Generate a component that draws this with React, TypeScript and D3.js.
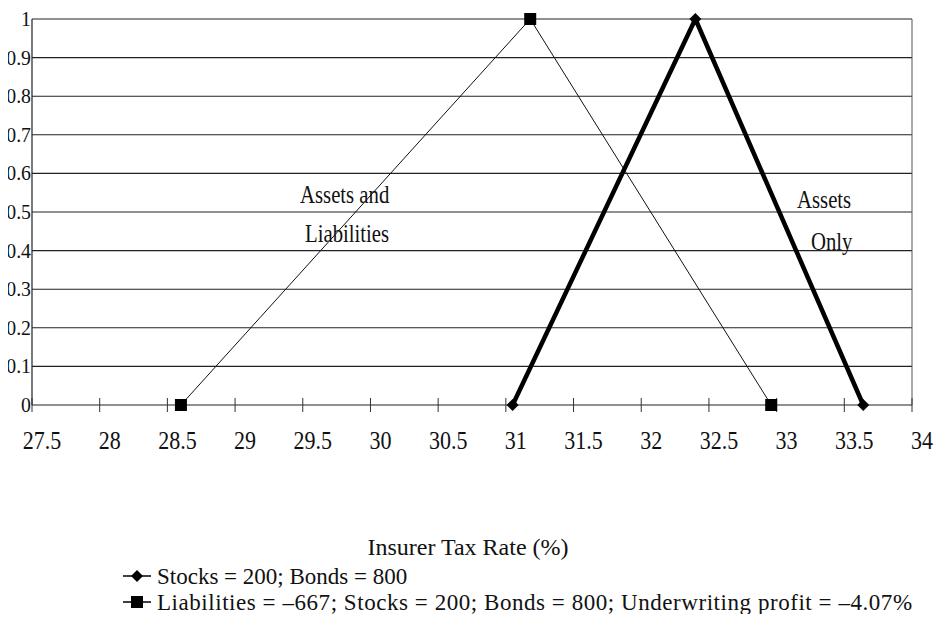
import React from "react";
import * as d3 from "d3";

// Insurer tax rate (%) vs. relative value
const assetsOnlyX = [31.05, 32.4, 33.64];
const assetsOnlyY = [0, 1, 0];
const liabilitiesX = [28.6, 31.18, 32.96];
const liabilitiesY = [0, 1, 0];

const xTicks = [27.5, 28, 28.5, 29, 29.5, 30, 30.5, 31, 31.5, 32, 32.5, 33, 33.5, 34];
const yTicks = [0, 0.1, 0.2, 0.3, 0.4, 0.5, 0.6, 0.7, 0.8, 0.9, 1];

const legendLabels = [
  "Stocks = 200; Bonds = 800",
  "Liabilities = \u2013667; Stocks = 200; Bonds = 800; Underwriting profit = \u20134.07%",
];

const W = 942;
const H = 618;
const FF = "Liberation Serif";

export default function App() {
  const x = d3.scaleLinear().domain([27.5, 34]).range([32, 912]);
  const y = d3.scaleLinear().domain([0, 1]).range([405, 19]);

  const line = d3
    .line<[number, number]>()
    .x((d) => x(d[0]))
    .y((d) => y(d[1]));

  const assetsPts: [number, number][] = assetsOnlyX.map((v, i) => [v, assetsOnlyY[i]]);
  const liabPts: [number, number][] = liabilitiesX.map((v, i) => [v, liabilitiesY[i]]);

  const diamond = (cx: number, cy: number, r: number) =>
    `M${cx},${cy - r}L${cx + r},${cy}L${cx},${cy + r}L${cx - r},${cy}Z`;

  // condensed text: horizontally squeezed around its anchor point
  const squeezed = (
    key: string,
    tx: number,
    ty: number,
    sx: number,
    size: number,
    txt: string,
    anchor: "start" | "middle" | "end" = "start"
  ) => (
    <g key={key} transform={`translate(${tx},${ty}) scale(${sx},1)`}>
      <text textAnchor={anchor} fontSize={size} fontFamily={FF} fill="#111">
        {txt}
      </text>
    </g>
  );

  return (
    <div style={{ margin: -8 }}>
      <svg width={W} height={H}>
        {/* gridlines */}
        {yTicks.slice(1).map((t) => (
          <line key={t} x1={32} x2={912} y1={y(t)} y2={y(t)} stroke="#222" strokeWidth={1.1} />
        ))}
        {/* axes */}
        <line x1={32} x2={912} y1={y(0)} y2={y(0)} stroke="#222" strokeWidth={1.2} />
        <line x1={32} x2={32} y1={y(1)} y2={y(0)} stroke="#222" strokeWidth={1.2} />
        <line x1={912} x2={912} y1={y(1)} y2={y(0)} stroke="#555" strokeWidth={1} />
        {xTicks.map((t) => (
          <line key={t} x1={x(t)} x2={x(t)} y1={y(0) - 7} y2={y(0) + 7} stroke="#333" strokeWidth={1} />
        ))}
        {/* y labels */}
        {yTicks.map((t) => squeezed(`y${t}`, 31, y(t) + 7, 0.9, 22, String(t), "end"))}
        {/* x labels */}
        {xTicks.map((t) => squeezed(`x${t}`, x(t) + 10, y(0) + 44, 0.88, 25, String(t), "middle"))}
        {/* series */}
        <path d={line(liabPts) || ""} fill="none" stroke="#111" strokeWidth={1} />
        <path d={line(assetsPts) || ""} fill="none" stroke="#000" strokeWidth={4.5} />
        {liabPts.map((p, i) => (
          <rect key={i} x={x(p[0]) - 6} y={y(p[1]) - 6} width={12} height={12} fill="#000" />
        ))}
        {assetsPts.map((p, i) => (
          <path key={i} d={diamond(x(p[0]), y(p[1]), 6)} fill="#000" />
        ))}
        {/* annotations */}
        {squeezed("a1", 300, 203, 0.83, 25, "Assets and")}
        {squeezed("a2", 305, 242, 0.83, 25, "Liabilities")}
        {squeezed("a3", 797, 208, 0.83, 25, "Assets")}
        {squeezed("a4", 811, 250, 0.83, 25, "Only")}
        {/* axis title */}
        <text x={468} y={555} textAnchor="middle" fontSize={24} fontFamily={FF} fill="#111">
          Insurer Tax Rate (%)
        </text>
        {/* legend */}
        <g>
          <line x1={123} x2={151} y1={576} y2={576} stroke="#000" strokeWidth={1.5} />
          <path d={diamond(137, 576, 6)} fill="#000" />
          <text x={157} y={584} fontSize={23} fontFamily={FF} fill="#111">
            {legendLabels[0]}
          </text>
          <line x1={123} x2={151} y1={602} y2={602} stroke="#000" strokeWidth={1.5} />
          <rect x={131} y={596} width={12} height={12} fill="#000" />
          <text x={157} y={610} fontSize={23} letterSpacing={0.55} fontFamily={FF} fill="#111">
            {legendLabels[1]}
          </text>
        </g>
      </svg>
    </div>
  );
}
